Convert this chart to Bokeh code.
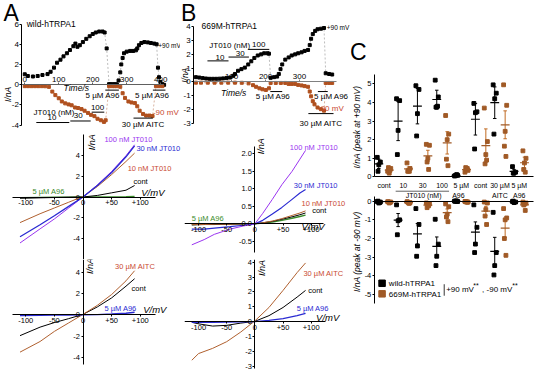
import math
import numpy as np
from bokeh.plotting import figure
from bokeh.layouts import row, column
from bokeh.models import Range1d, FixedTicker, Label
from bokeh.embed import file_html
from bokeh.resources import INLINE
from bokeh.core.properties import value

# ---------------- data ----------------
# Panel A: time course, wild-hTRPA1 (time in s, current in nA)
A_t_p90 = [0, 9, 24, 38, 52, 67, 76, 86, 95, 105, 114, 124, 133, 143, 149, 155, 162, 171, 181, 191,
           200, 209, 219, 229, 235, 241,
           248, 252, 257, 262, 266, 271, 276, 281, 284, 288, 292, 300, 310, 319, 327, 331, 336, 343,
           352, 362, 371, 381, 388, 392, 395, 399, 405, 410]
A_i_p90 = [1.05, 0.88, 0.83, 0.88, 0.98, 1.07, 1.30, 1.71, 2.20, 2.50, 2.83, 3.14, 3.46, 3.84, 4.10,
           3.78, 3.94, 4.25, 4.57, 4.83, 5.05, 5.20, 5.30, 5.30, 5.20, 3.62,
           0.07, 0.05, 0.05, 0.05, 0.05, 0.05, 0.44, 1.24, 2.03, 2.67, 3.14, 3.30, 3.37, 3.37, 3.43,
           3.62, 3.94, 4.16, 4.25, 4.22, 4.16, 4.10, 4.03, 1.71, 0.76, 0.29, 0.07, 0.00]
A_t_m90 = [0, 10, 20, 30, 40, 50, 60, 71, 81, 90, 100, 109, 119, 129, 138, 148, 157, 167, 176, 186,
           195, 205, 214, 224, 233, 238,
           248, 257, 264, 271, 281, 288, 295, 305, 314, 324, 331, 338, 348, 357, 367, 376, 386, 395, 405]
A_i_m90 = [-0.13, -0.13, -0.13, -0.13, -0.13, -0.13, -0.14, -0.20, -0.67, -1.02, -1.33, -1.65, -1.84,
           -1.94, -2.03, -2.25, -2.30, -2.41, -2.57, -2.79, -2.98, -3.11, -3.37, -3.52, -3.68, -3.52,
           -0.13, -0.13, -0.13, -0.13, -0.19, -0.83, -1.30, -1.65, -1.75, -1.81, -2.13, -2.57, -2.89,
           -3.05, -3.05, -3.10, -0.13, -0.13, -0.13]
A_app_start = [34, 134, 197, 237, 320, 377]      # 10, 30, 100 nM JT010, A96, AITC, A96
A_app_end = [131, 194, 234, 277, 377, 414]

# Panel B: time course, 669M-hTRPA1
B_t_p90 = [-5, 5, 15, 25, 35, 45, 55, 65, 75, 85, 95, 105, 110, 119, 129, 139, 149, 158, 167, 177,
           187, 196, 206, 210,
           215, 225, 234, 239, 244, 249, 258, 268, 277, 287, 296, 306, 315, 325, 330, 334, 339, 346,
           353, 363, 372, 377, 387, 396]
B_i_p90 = [0.35, 0.32, 0.28, 0.25, 0.23, 0.23, 0.23, 0.24, 0.26, 0.28, 0.32, 0.45, 0.58, 0.81, 0.93,
           1.04, 1.27, 1.50, 1.74, 1.92, 2.00, 2.08, 2.08, 2.05,
           0.30, 0.35, 0.39, 0.58, 0.93, 1.27, 1.62, 1.78, 1.92, 2.00, 2.08, 2.15, 2.25, 2.32, 2.67,
           3.13, 3.47, 3.70, 3.82, 3.86, 3.91, 0.63, 0.58, 0.54]
B_t_m90 = [-5, 10, 30, 50, 70, 90, 110, 130, 150, 163, 172, 182, 191, 201, 210,
           215, 230, 245, 258, 268, 277, 287, 296, 306, 315, 325, 330, 334, 339, 344, 353, 363, 372,
           377, 387, 396]
B_i_m90 = [-0.05, -0.05, -0.05, -0.05, -0.05, -0.05, -0.05, -0.06, -0.10, -0.23, -0.35, -0.46, -0.53,
           -0.58, -0.46,
           -0.07, -0.07, -0.07, -0.07, -0.14, -0.14, -0.14, -0.21, -0.25, -0.30, -0.35, -0.69, -1.04,
           -1.39, -1.62, -1.85, -1.97, -2.08, -0.07, -0.07, -0.07]
B_app_start = [29, 91, 149, 214, 326, 354]
B_app_end = [91, 151, 211, 249, 400, 383]

# I-V relations (V in mV, I in nA)
V_A = [-110, -75, -50, -25, 0, 25, 50, 75, 90]
A_iv_jt100 = [-4.4, -3.05, -2.1, -1.05, 0.0, 1.15, 2.45, 3.95, 5.0]
A_iv_jt30 = [-3.8, -2.65, -1.8, -0.9, 0.0, 1.1, 2.35, 3.85, 4.9]
A_iv_jt10 = [-2.45, -1.6, -1.05, -0.5, 0.05, 1.0, 2.15, 3.4, 4.2]
A_iv_cont1 = [-0.12, -0.08, -0.05, -0.02, 0.0, 0.15, 0.4, 0.65, 1.1]
A_iv_a96_1 = [-0.05, -0.03, -0.02, -0.01, 0.0, 0.01, 0.02, 0.03, 0.05]
A_iv_aitc = [-3.5, -2.5, -1.55, -0.75, 0.05, 0.9, 1.92, 3.2, 4.15]
A_iv_cont2 = [-1.95, -1.15, -0.72, -0.35, 0.05, 0.75, 1.6, 2.7, 3.4]
A_iv_a96_2 = [-0.05, -0.03, -0.02, -0.01, 0.0, 0.03, 0.08, 0.15, 0.25]

V_B1 = [-112, -90, -72, -44, -20, 0, 14, 31, 48, 66, 80, 90]
B_iv_jt100 = [-0.6, -0.45, -0.3, -0.15, -0.06, 0.0, 0.3, 0.7, 1.12, 1.5, 1.85, 2.1]
B_iv_jt30 = [-0.15, -0.15, -0.12, -0.08, -0.04, 0.0, 0.1, 0.28, 0.47, 0.7, 0.88, 0.98]
B_iv_jt10 = [-0.02, -0.02, -0.01, -0.01, 0.0, 0.0, 0.03, 0.08, 0.15, 0.24, 0.31, 0.37]
B_iv_cont1 = [-0.03, -0.02, -0.02, -0.01, 0.0, 0.0, 0.03, 0.07, 0.13, 0.2, 0.26, 0.31]
B_iv_a96_1 = [-0.02, -0.01, -0.01, 0.0, 0.0, 0.0, 0.02, 0.05, 0.1, 0.16, 0.21, 0.25]
V_B2 = [-112, -100, -75, -50, -25, 0, 25, 50, 75, 90]
B_iv_aitc = [-2.6, -2.15, -1.8, -1.35, -0.7, 0.05, 0.95, 2.1, 3.3, 3.95]
B_iv_cont2 = [-0.05, -0.15, -0.3, -0.25, -0.1, 0.02, 0.4, 0.95, 1.65, 2.1]
B_iv_a96_2 = [-0.05, -0.05, -0.05, -0.04, -0.02, 0.0, 0.08, 0.2, 0.4, 0.55]

# Panel C: peak currents
C_groups = ["cont", "10", "30", "100", "5 \u00b5M", "cont", "30 \u00b5M", "5 \u00b5M"]
C_sub_labels = ["JT010 (nM)", "A96", "AITC", "A96"]
C_sub_group = [3.05, 4.85, 7.0, 8.0]
wt_p90 = [[1.05, 0.8, 0.65, 0.3], [4.2, 4.1, 2.5, 1.2], [4.9, 4.7, 3.4, 2.2],
          [5.2, 4.3, 3.75, 3.75, 3.8], [0.05, 0.08, 0.1, 0.06, 0.12], [3.95, 3.5, 3.45, 1.5],
          [4.95, 4.5, 4.2, 2.3], [0.55, 0.25, 0.2, 0.2]]
mut_p90 = [[0.3, 0.45, 0.2, 0.5, 0.35], [0.75, 0.45, 0.35, 0.3, 0.3], [1.75, 1.7, 1.0, 0.8, 0.4],
           [3.3, 2.3, 2.0, 0.95, 0.6], [0.25, 0.35, 0.4, 0.5, 0.45], [3.7, 1.9, 1.2, 0.7, 0.9],
           [4.95, 3.85, 2.45, 1.65, 1.1], [1.4, 1.0, 0.75, 0.4, 0.25]]
wt_m90 = [[-0.02, -0.05, -0.1, 0.0, -0.08], [-0.2, -1.0, -1.05, -1.8], [-0.4, -1.25, -2.4, -2.95],
          [-0.97, -2.3, -2.95, -3.45], [0.0, -0.02, 0.01, -0.01, 0.0], [-0.2, -1.4, -2.3, -2.75],
          [-0.6, -2.75, -3.45, -3.95], [-0.02, -0.05, -0.08, 0.0]]
mut_m90 = [[-0.03, -0.05, -0.1, -0.04, -0.06], [-0.03, -0.08, -0.1, -0.05, -0.12],
           [-0.1, -0.15, -0.2, -0.35, -0.25], [-0.15, -0.3, -0.7, -0.85, -1.1],
           [-0.02, -0.05, -0.03, -0.04, -0.06], [-0.05, -0.1, -0.45, -0.8, -1.25],
           [-0.4, -0.9, -1.0, -2.0, -2.9], [-0.05, -0.1, -0.15, -0.2, -0.5]]
wt_p90_err = [0.25, 1.05, 0.95, 0.5, 0.02, 0.85, 0.85, 0.1]
mut_p90_err = [0.08, 0.1, 0.3, 0.6, 0.05, 0.9, 0.75, 0.3]
wt_m90_err = [0.02, 0.35, 0.55, 0.5, 0.01, 0.55, 0.75, 0.02]
mut_m90_err = [0.02, 0.02, 0.05, 0.2, 0.01, 0.25, 0.5, 0.1]

# ---------------- style ----------------
FONT = "Liberation Sans"
SX = 534 / 550
SY = 370 / 386
PURPLE = "#9a35f0"
BLUE = "#2a2ad2"
BROWN = "#b0602f"
RED = "#c94a32"
GREEN = "#3a8c2a"
TRACE_BROWN = "#b0501e"
MUT = "#a05a26"
MUT_BAR = "#c06a22"
JIT = [-0.08, 0.08, 0.0, -0.04, 0.04]


def make_fig(box, xcal, ycal, x_loc="below"):
    rx0, ry0, rx1, ry1 = box
    cx0, cx1 = round(rx0 * SX), round(rx1 * SX)
    cy0, cy1 = round(ry0 * SY), round(ry1 * SY)
    px0, ppx = xcal
    py0, ppy = ycal
    X = lambda px: (px - px0) / ppx
    Y = lambda py: (py0 - py) / ppy
    p = figure(width=cx1 - cx0, height=cy1 - cy0,
               x_range=Range1d(X(cx0 / SX), X(cx1 / SX)),
               y_range=Range1d(Y(cy1 / SY), Y(cy0 / SY)),
               output_backend="svg", toolbar_location=None, min_border=0,
               x_axis_location=x_loc)
    p.outline_line_color = None
    p.grid.visible = False
    p.background_fill_color = "white"
    p.border_fill_color = "white"
    return p, X, Y


def k(t):
    return int(t) if float(t).is_integer() else t


def style_axis(ax, ticks, labels, bounds, loc, size="7.5px", color="black"):
    ax.fixed_location = loc
    ax.ticker = FixedTicker(ticks=ticks)
    ax.major_label_overrides = {k(t): l for t, l in zip(ticks, labels)}
    ax.bounds = tuple(sorted(bounds))
    ax.axis_line_color = color
    ax.axis_line_width = 1
    ax.major_tick_line_color = color
    ax.minor_tick_line_color = None
    ax.major_tick_in = 0
    ax.major_tick_out = 2
    ax.major_label_standoff = 1
    ax.major_label_text_font = FONT
    ax.major_label_text_font_size = size
    ax.major_label_text_color = "black"


def txt(p, x, y, s, size="7.5px", color="black", align="left", style="normal", angle=0.0,
        baseline="middle"):
    p.add_layout(Label(x=x, y=y, text=s, text_font=FONT, text_font_size=size,
                       text_color=color, text_align=align, text_baseline=baseline,
                       text_font_style=style, angle=angle))


# ---------------- Panel A time course ----------------
pA, XA, YA = make_fig((0, 0, 185, 135), (25, 0.35), (88, 10.5), x_loc="above")
style_axis(pA.xaxis[0], [0, 100, 200, 300, 400], ["0", "100", "200", "300", "400"],
           (XA(22), XA(168)), 0, size="8px", color="#606060")
style_axis(pA.yaxis[0], [-4, -2, 0, 2, 4, 6], ["-4", "-2", "0", "2", "4", "6"],
           (-4, 6), XA(22), size="8px")
pA.line(A_t_p90, A_i_p90, line_color="#909090", line_width=0.6, line_dash="2 2")
pA.scatter(A_t_p90, A_i_p90, marker="square", size=3, color="black")
pA.line(A_t_m90, A_i_m90, line_color="#c08060", line_width=0.6, line_dash="2 2")
pA.scatter(A_t_m90, A_i_m90, marker="square", size=3, color=TRACE_BROWN)
A_bar_py = [127.3, 125.7, 116.5, 93.5, 122.7, 93.5]
pA.segment(x0=A_app_start, x1=A_app_end, y0=[YA(v) for v in A_bar_py],
           y1=[YA(v) for v in A_bar_py], line_color="black", line_width=1)
txt(pA, XA(3), YA(13), "A", size="23px")
txt(pA, XA(27), YA(25), "wild-hTRPA1", size="8.5px")
txt(pA, XA(162.5), YA(47), "+90 mV", size="6.5px")
txt(pA, XA(157), YA(117), "-90 mV", size="8px", color=RED)
txt(pA, XA(65), YA(91), "Time/s", size="8.5px", style="italic")
txt(pA, XA(123), YA(99), "5 \u00b5M A96", size="8px", align="right")
txt(pA, XA(174), YA(99), "5 \u00b5M A96", size="8px", align="right")
txt(pA, XA(34), YA(117), "JT010 (nM)", size="8px")
txt(pA, XA(53), YA(122), "10", size="8px", align="center")
txt(pA, XA(80), YA(120), "30", size="8px", align="center")
txt(pA, XA(100), YA(112), "100", size="8px", align="center")
txt(pA, XA(125), YA(129), "30 \u00b5M AITC", size="8px")
txt(pA, XA(8), YA(98), "I/nA", size="8.5px", style="italic", angle=math.pi / 2, align="center")

# ---------------- Panel B time course ----------------
pB, XB, YB = make_fig((185, 0, 360, 135), (203, 0.35), (85, 14.4), x_loc="above")
style_axis(pB.xaxis[0], [100, 200, 300], ["100", "200", "300"],
           (XB(199), XB(346)), 0, size="8px", color="#808080")
style_axis(pB.yaxis[0], [-3, -2, -1, 0, 1, 2, 3, 4], ["-3", "-2", "-1", "0", "1", "2", "3", "4"],
           (-3, 4), XB(199), size="8px")
pB.line(B_t_p90, B_i_p90, line_color="#909090", line_width=0.6, line_dash="2 2")
pB.scatter(B_t_p90, B_i_p90, marker="square", size=3, color="black")
pB.line(B_t_m90, B_i_m90, line_color="#c08060", line_width=0.6, line_dash="2 2")
pB.scatter(B_t_m90, B_i_m90, marker="square", size=3, color=TRACE_BROWN)
B_bar_py = [63, 59, 51, 95, 118, 95]
pB.segment(x0=B_app_start, x1=B_app_end, y0=[YB(v) for v in B_bar_py],
           y1=[YB(v) for v in B_bar_py], line_color="black", line_width=1)
txt(pB, XB(186), YB(13), "B", size="23px")
txt(pB, XB(207), YB(27), "669M-hTRPA1", size="8.5px")
txt(pB, XB(336), YB(28), "+90 mV", size="6.5px")
txt(pB, XB(327), YB(113), "-90 mV", size="8px", color=RED)
txt(pB, XB(227), YB(96), "Time/s", size="8.5px", style="italic")
txt(pB, XB(263), YB(100), "5 \u00b5M A96", size="8px")
txt(pB, XB(323), YB(100), "5 \u00b5M A96", size="8px")
txt(pB, XB(215), YB(47), "JT010 (nM)", size="8px")
txt(pB, XB(226), YB(59), "10", size="8px", align="center")
txt(pB, XB(247), YB(55), "30", size="8px", align="center")
txt(pB, XB(266), YB(46), "100", size="8px", align="center")
txt(pB, XB(308), YB(128), "30 \u00b5M AITC", size="8px")
txt(pB, XB(190), YB(78), "I/nA", size="8.5px", style="italic", angle=math.pi / 2, align="center")

# ---------------- I-V panels ----------------
VT = [-100, -50, 0, 50, 100]
VL = ["-100", "-50", "0", "+50", "+100"]


def iv_fig(box, xcal, ycal, xb, yb, yt, yl):
    p, X, Y = make_fig(box, xcal, ycal)
    style_axis(p.xaxis[0], VT, VL, (X(xb[0]), X(xb[1])), 0)
    style_axis(p.yaxis[0], yt, yl, (Y(yb[0]), Y(yb[1])), 0)
    return p, X, Y


pA1, XA1, YA1 = iv_fig((0, 135, 190, 270), (85, 0.59), (205, 10.9), (12, 160), (270, 140),
                       [-4, -2, 0, 2, 4], ["-4", "-2", "0", "2", "4"])
pA1.line(V_A, A_iv_a96_1, line_color=GREEN, line_width=1.3)
pA1.line(V_A, A_iv_cont1, line_color="black", line_width=1)
pA1.line(V_A, A_iv_jt10, line_color=BROWN, line_width=1)
pA1.line(V_A, A_iv_jt100, line_color=PURPLE, line_width=1)
pA1.line(V_A, A_iv_jt30, line_color=BLUE, line_width=1.3)
txt(pA1, XA1(107), YA1(145), "100 nM JT010", color=PURPLE)
txt(pA1, XA1(140), YA1(154), "30 nM JT010", color=BLUE)
txt(pA1, XA1(131), YA1(175), "10 nM JT010", color=RED)
txt(pA1, XA1(137), YA1(189), "cont")
txt(pA1, XA1(33), YA1(199), "5 \u00b5M A96", color=GREEN)
txt(pA1, XA1(145), YA1(200), "V/mV", size="9.5px", style="italic")
txt(pA1, XA1(94), YA1(148), "I/nA", size="9px", style="italic", angle=math.pi / 2, align="center")

pB1, XB1, YB1 = iv_fig((190, 135, 360, 270), (262, 0.58), (233, 36.5), (183, 333), (263, 152),
                       [-0.5, 0, 0.5, 1, 1.5, 2], ["-0.5", "0.0", "0.5", "1.0", "1.5", "2.0"])
pB1.line(V_B1, B_iv_a96_1, line_color=GREEN, line_width=1.3)
pB1.line(V_B1, B_iv_cont1, line_color="black", line_width=1)
pB1.line(V_B1, B_iv_jt10, line_color=BROWN, line_width=1)
pB1.line(V_B1, B_iv_jt30, line_color=BLUE, line_width=1.2)
pB1.line(V_B1, B_iv_jt100, line_color=PURPLE, line_width=1)
txt(pB1, XB1(298), YB1(153), "100 nM JT010", color=PURPLE)
txt(pB1, XB1(302), YB1(193), "30 nM JT010", color=BLUE)
txt(pB1, XB1(310), YB1(212), "10 nM JT010", color=RED)
txt(pB1, XB1(321), YB1(219), "cont")
txt(pB1, XB1(197), YB1(227), "5 \u00b5M A96", color=GREEN)
txt(pB1, XB1(310), YB1(236), "V/mV", size="9.5px", style="italic")
txt(pB1, XB1(268), YB1(152), "I/nA", size="9px", style="italic", angle=math.pi / 2, align="center")

pA2, XA2, YA2 = iv_fig((0, 270, 190, 386), (85, 0.59), (328, 11.1), (12, 160), (380, 268),
                       [-4, -2, 0, 2, 4], ["-4", "-2", "0", "2", "4"])
pA2.line(V_A, A_iv_cont2, line_color="black", line_width=1)
pA2.line(V_A, A_iv_aitc, line_color=BROWN, line_width=1)
pA2.line(V_A, A_iv_a96_2, line_color=BLUE, line_width=1.4)
txt(pA2, XA2(118), YA2(277), "30 \u00b5M AITC", color=RED)
txt(pA2, XA2(135), YA2(300), "cont")
txt(pA2, XA2(107), YA2(321), "5 \u00b5M A96", color=BLUE)
txt(pA2, XA2(147), YA2(322), "V/mV", size="9.5px", style="italic")
txt(pA2, XA2(92), YA2(277), "I/nA", size="9px", style="italic", angle=math.pi / 2, align="center")

pB2, XB2, YB2 = iv_fig((190, 270, 360, 386), (262, 0.58), (335, 15.5), (185, 335), (384, 268),
                       [-3, -2, -1, 0, 1, 2, 3, 4], ["-3", "-2", "-1", "0", "1", "2", "3", "4"])
pB2.line(V_B2, B_iv_cont2, line_color="black", line_width=1)
pB2.line(V_B2, B_iv_aitc, line_color=BROWN, line_width=1)
pB2.line(V_B2, B_iv_a96_2, line_color=BLUE, line_width=1.2)
txt(pB2, XB2(312), YB2(285), "30 \u00b5M AITC", color=RED)
txt(pB2, XB2(317), YB2(303), "cont")
txt(pB2, XB2(305), YB2(321), "5 \u00b5M A96", color=BLUE)
txt(pB2, XB2(325), YB2(331), "V/mV", size="9.5px", style="italic")
txt(pB2, XB2(269), YB2(279), "I/nA", size="9px", style="italic", angle=math.pi / 2, align="center")

# ---------------- Panel C ----------------
CX = (375.1, 19.9)


def strip(p, groups_vals, errs, side, color, bar_color):
    xs, ys = [], []
    for g, vals in enumerate(groups_vals, start=1):
        for j, v in enumerate(vals):
            xs.append(g + side + JIT[j])
            ys.append(v)
    means = [float(np.mean(v)) for v in groups_vals]
    cx = [g + side for g in range(1, len(groups_vals) + 1)]
    lo = [m - e for m, e in zip(means, errs)]
    hi = [m + e for m, e in zip(means, errs)]
    p.segment(x0=cx, x1=cx, y0=lo, y1=hi, line_color=bar_color, line_width=1)
    p.segment(x0=[c - 0.09 for c in cx], x1=[c + 0.09 for c in cx], y0=lo, y1=lo,
              line_color=bar_color, line_width=1)
    p.segment(x0=[c - 0.09 for c in cx], x1=[c + 0.09 for c in cx], y0=hi, y1=hi,
              line_color=bar_color, line_width=1)
    p.scatter(xs, ys, marker="square", size=3.8, color=color)
    p.segment(x0=[c - 0.23 for c in cx], x1=[c + 0.23 for c in cx], y0=means, y1=means,
              line_color=color, line_width=1.2)


pC1, XC1, YC1 = make_fig((360, 0, 550, 198), CX, (184, 19.4))
style_axis(pC1.yaxis[0], [0, 1, 2, 3, 4, 5], ["0", "1", "2", "3", "4", "5"], (0, 5.5), XC1(385))
style_axis(pC1.xaxis[0], [], [], (XC1(385), XC1(549)), 0)
strip(pC1, wt_p90, wt_p90_err, -0.27, "black", "black")
strip(pC1, mut_p90, mut_p90_err, 0.27, MUT, MUT_BAR)
pC1.text(x=list(range(1, len(C_groups) + 1)), y=[YC1(192.5)] * len(C_groups), text=C_groups,
         text_font=value(FONT), text_font_size="7px", text_align="center",
         text_baseline="middle")
txt(pC1, XC1(360), YC1(54), "C", size="23px")
txt(pC1, XC1(367), YC1(132), "I/nA (peak at +90 mV)", size="8.5px", style="italic",
    angle=math.pi / 2, align="center")

pC2, XC2, YC2 = make_fig((360, 198, 550, 386), CX, (209.3, 19.5))
style_axis(pC2.yaxis[0], [-5, -4, -3, -2, -1, 0], ["-5", "-4", "-3", "-2", "-1", "0"],
           (-5.5, 0.25), XC2(385))
style_axis(pC2.xaxis[0], [], [], (XC2(385), XC2(549)), 0)
pC2.text(x=C_sub_group, y=[YC2(203)] * len(C_sub_labels), text=C_sub_labels,
         text_font=value(FONT), text_font_size="7px", text_align="center",
         text_baseline="middle")
pC2.segment(x0=[XC2(407)], x1=[XC2(462)], y0=[YC2(198.8)], y1=[YC2(198.8)],
            line_color="black", line_width=0.8)
strip(pC2, wt_m90, wt_m90_err, -0.27, "black", "black")
strip(pC2, mut_m90, mut_m90_err, 0.27, MUT, MUT_BAR)
txt(pC2, XC2(367), YC2(262), "I/nA (peak at -90 mV)", size="8.5px", style="italic",
    angle=math.pi / 2, align="center")
pC2.scatter([XC2(393), XC2(393)], [YC2(295), YC2(306)], marker="square", size=6.5,
            color=["black", MUT])
txt(pC2, XC2(400), YC2(295), "wild-hTRPA1", size="8px")
txt(pC2, XC2(400), YC2(306.5), "669M-hTRPA1", size="8px")
pC2.segment(x0=[XC2(457)], x1=[XC2(457)], y0=[YC2(296)], y1=[YC2(308)], line_color="black",
            line_width=0.8)
txt(pC2, XC2(459), YC2(302), "+90 mV", size="8px")
txt(pC2, XC2(487), YC2(297), "**", size="7px")
txt(pC2, XC2(496), YC2(302), ", -90 mV", size="8px")
txt(pC2, XC2(527), YC2(297), "**", size="7px")

left = column(row(pA, pB), row(pA1, pB1), row(pA2, pB2))
right = column(pC1, pC2)
root = row(left, right)

open("out.html", "w").write(file_html(root, INLINE))
